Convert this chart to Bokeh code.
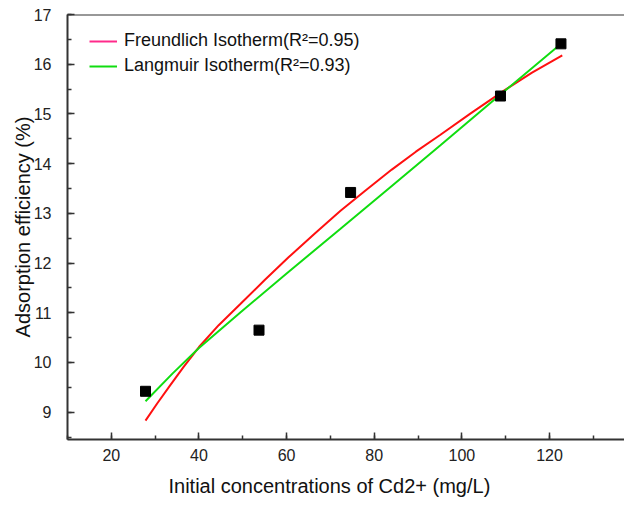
from bokeh.plotting import figure
from bokeh.models import SingleIntervalTicker, Span, Legend, LegendItem, Range1d, Title
from bokeh.embed import file_html
from bokeh.resources import INLINE

# Experimental data
conc = [27.8, 53.7, 74.6, 108.8, 122.6]
eff = [9.42, 10.65, 13.42, 15.36, 16.41]

# Fitted curves
freund_x = [27.8, 30.5, 33.5, 36.5, 40.0, 44.5, 49.5, 55.0, 60.5, 66.5, 72.3,
            78.0, 84.0, 89.5, 95.1, 102.0, 109.6, 116.0, 122.9]
freund_y = [8.83, 9.18, 9.55, 9.91, 10.31, 10.75, 11.18, 11.66, 12.12, 12.60, 13.05,
            13.46, 13.88, 14.24, 14.58, 15.01, 15.47, 15.83, 16.18]
lang_x = [27.8, 34.0, 40.0, 49.5, 60.0, 72.3, 84.0, 95.1, 109.6, 122.9]
lang_y = [9.22, 9.78, 10.29, 11.01, 11.79, 12.69, 13.55, 14.37, 15.45, 16.43]

x_label = "Initial concentrations of Cd2+ (mg/L)"
y_label = "Adsorption efficiency (%)"

FONT = "Liberation Sans"
NAN = float("nan")

p = figure(width=624, height=506, output_backend="svg", toolbar_location=None,
           x_range=Range1d(10, 137.1), y_range=Range1d(8.45, 17.0),
           min_border_left=67, min_border_right=0, min_border_top=14, min_border_bottom=67)
p.outline_line_color = None
p.xgrid.visible = False
p.ygrid.visible = False
p.background_fill_color = "white"
p.border_fill_color = "white"

p.xaxis.ticker = SingleIntervalTicker(interval=20, num_minor_ticks=2)
p.yaxis.ticker = SingleIntervalTicker(interval=1, num_minor_ticks=2)

for ax in (p.xaxis[0], p.yaxis[0]):
    ax.axis_line_color = "#333333"
    ax.axis_line_width = 2
    ax.major_tick_line_color = "#333333"
    ax.minor_tick_line_color = "#333333"
    ax.major_tick_line_width = 1.5
    ax.minor_tick_line_width = 1.5
    ax.major_tick_in = 7
    ax.major_tick_out = 0
    ax.minor_tick_in = 4
    ax.minor_tick_out = 0
    ax.major_label_text_font = FONT
    ax.major_label_text_font_size = "16px"
    ax.major_label_text_color = "#222222"
    ax.axis_label_text_font = FONT
    ax.axis_label_text_font_size = "20px"
    ax.axis_label_text_font_style = "normal"
    ax.axis_label_text_color = "#111111"

p.yaxis.axis_label = y_label
p.yaxis.major_label_standoff = 16
p.xaxis.major_label_standoff = 9
p.yaxis.axis_label_standoff = -3

# x-axis caption, positioned like the reference (slightly left of frame centre)
xt = Title(text=x_label, align="left", offset=101, text_font=FONT,
           text_font_size="20px", text_font_style="normal", text_color="#111111",
           standoff=19)
p.add_layout(xt, "below")

top = Span(location=17.0, dimension="width", line_color="#333333", line_width=2)
p.add_layout(top)

p.line(freund_x, freund_y, line_color="#ff1010", line_width=2)
p.line(lang_x, lang_y, line_color="#10dd10", line_width=2)
p.scatter(conc, eff, marker="square", size=10, color="black")

# legend proxies (not visible in plot area)
r1 = p.line([NAN, NAN], [NAN, NAN], line_color="#ff2a8a", line_width=2)
r2 = p.line([NAN, NAN], [NAN, NAN], line_color="#10dd10", line_width=2)
legend = Legend(items=[LegendItem(label="Freundlich Isotherm(R²=0.95)", renderers=[r1]),
                       LegendItem(label="Langmuir Isotherm(R²=0.93)", renderers=[r2])],
                location=(22, 363))
legend.margin = 0
legend.padding = 0
legend.border_line_color = None
legend.background_fill_alpha = 0
legend.label_text_font = FONT
legend.label_text_font_size = "18px"
legend.label_text_color = "#111111"
legend.glyph_width = 28
legend.glyph_height = 20
legend.label_height = 20
legend.spacing = 4
legend.label_standoff = 7
p.add_layout(legend, "center")

open("out.html", "w").write(file_html(p, INLINE))
